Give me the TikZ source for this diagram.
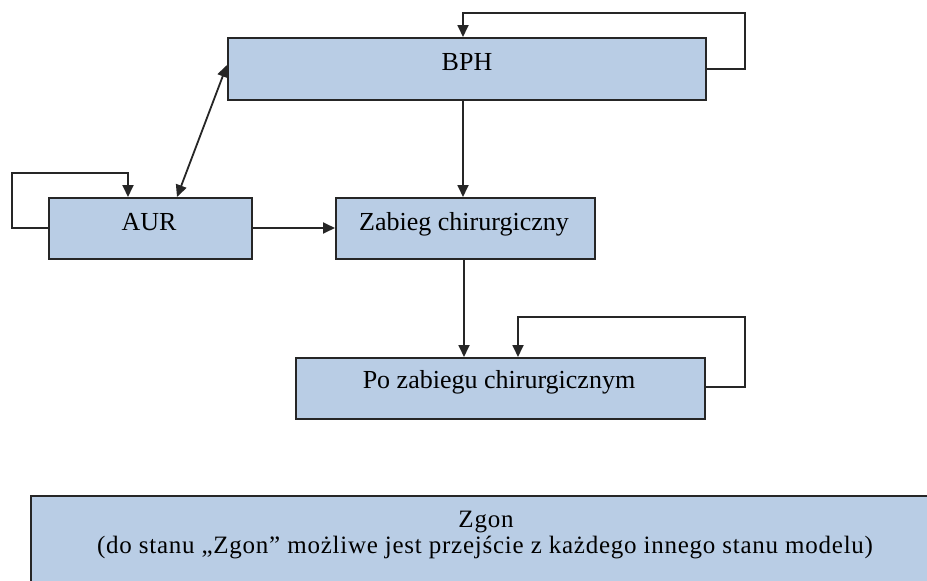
\documentclass[tikz,border=0pt]{standalone}
\usepackage{fontspec}
\setmainfont{Liberation Serif}
\usetikzlibrary{arrows.meta}
\definecolor{boxfill}{HTML}{B9CDE5}
\definecolor{edge}{HTML}{262626}
\begin{document}
\begin{tikzpicture}[x=1pt,y=-1pt,
  stbox/.style={draw=edge,line width=2.2pt,fill=boxfill,inner sep=0pt,anchor=north west},
  lbl/.style={anchor=base,inner sep=0pt,font=\fontsize{26}{30}\selectfont},
  zlbl/.style={anchor=base,inner sep=0pt,font=\fontsize{25}{26}\selectfont\addfontfeature{LetterSpace=3}},
  conn/.style={draw=edge,line width=1.8pt,-{Triangle[length=12pt,width=11pt]}},
  conn2/.style={draw=edge,line width=1.8pt,{Triangle[length=12pt,width=11pt]}-{Triangle[length=12pt,width=11pt]}}]
\clip (0,0) rectangle (927,581);
\fill[white] (0,0) rectangle (927,581);
% boxes
\node[stbox,minimum width=478pt,minimum height=62pt] (bph) at (227,37) {};
\node[stbox,minimum width=203pt,minimum height=61pt] (aur) at (48,197) {};
\node[stbox,minimum width=259pt,minimum height=61pt] (zab) at (335,197) {};
\node[stbox,minimum width=409pt,minimum height=61pt] (po) at (295,357) {};
\node[stbox,minimum width=920pt,minimum height=110pt] (zgon) at (30,495) {};
% labels
\node[lbl] (bphT) at (467,70) {BPH};
\node[lbl] (aurT) at (149,230) {AUR};
\node[lbl] (zabT) at (464,230) {Zabieg chirurgiczny};
\node[lbl] (poT) at (499,388) {Po zabiegu chirurgicznym};
\node[zlbl] (zgonT1) at (486,527) {Zgon};
\node[zlbl] (zgonT2) at (485,553) {(do stanu „Zgon” możliwe jest przejście z każdego innego stanu modelu)};
% loop points
\coordinate (bA) at (745,13);
\coordinate (aA) at (12,173);
\coordinate (pA) at (745,317);
% connectors
\draw[conn] (bph.east |- 0,69) -| (bA) -| (bph.north -| 463,0);
\draw[conn] (aur.west |- 0,228) -| (aA) -| (aur.north -| 128,0);
\draw[conn] (po.east |- 0,387) -| (pA) -| (po.north -| 518,0);
\draw[conn2] (aur.north -| 177,0) -- (bph.west |- 0,65);
\draw[conn] (aur.east |- 0,228) -- (zab.west |- 0,228);
\draw[conn] (bph.south -| 463,0) -- (zab.north -| 463,0);
\draw[conn] (zab.south -| 464,0) -- (po.north -| 464,0);
\end{tikzpicture}
\end{document}
